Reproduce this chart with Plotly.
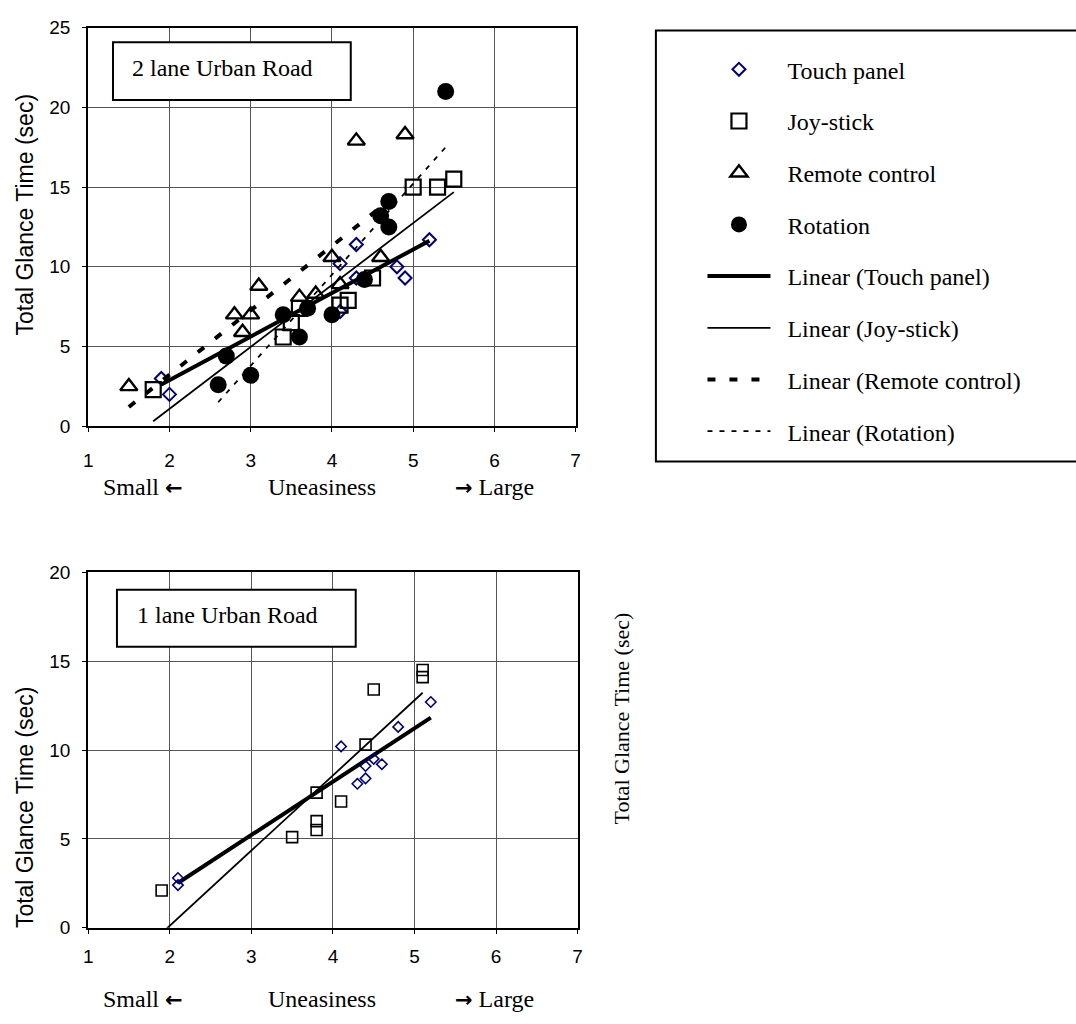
import numpy as np
import plotly.graph_objects as go

# ---------------- data: 2 lane urban road ----------------
tp2_x = [1.9, 2.0, 4.1, 4.1, 4.3, 4.3, 4.8, 4.9, 5.2]
tp2_y = [3.0, 2.0, 7.2, 10.2, 9.3, 11.4, 10.0, 9.3, 11.7]
js2_x = [1.8, 3.4, 3.5, 3.6, 4.1, 4.2, 4.5, 5.0, 5.3, 5.5]
js2_y = [2.3, 5.6, 6.5, 7.4, 7.6, 7.9, 9.3, 15.0, 15.0, 15.5]
rc2_x = [1.5, 2.8, 2.9, 3.0, 3.1, 3.6, 3.8, 4.0, 4.1, 4.3, 4.6, 4.9]
rc2_y = [2.5, 7.0, 5.9, 7.0, 8.8, 8.1, 8.3, 10.6, 8.9, 17.9, 10.6, 18.3]
ro2_x = [2.6, 2.7, 3.0, 3.4, 3.6, 3.7, 4.0, 4.4, 4.6, 4.7, 4.7, 5.4]
ro2_y = [2.6, 4.4, 3.2, 7.0, 5.6, 7.4, 7.0, 9.2, 13.2, 12.5, 14.1, 21.0]

# ---------------- data: 1 lane urban road ----------------
tp1_x = [2.1, 2.1, 4.1, 4.3, 4.4, 4.4, 4.5, 4.6, 4.8, 5.2]
tp1_y = [2.8, 2.4, 10.2, 8.1, 8.4, 9.1, 9.5, 9.2, 11.3, 12.7]
js1_x = [1.9, 3.5, 3.8, 3.8, 3.8, 4.1, 4.4, 4.5, 5.1, 5.1]
js1_y = [2.1, 5.1, 7.6, 6.0, 5.5, 7.1, 10.3, 13.4, 14.5, 14.1]

series_names = ["Touch panel", "Joy-stick", "Remote control", "Rotation"]
x_ticks = [1, 2, 3, 4, 5, 6, 7]
top_title = "2 lane Urban Road"
bottom_title = "1 lane Urban Road"
y_title = "Total Glance Time (sec)"
ARROW = "<b><span style=\"font-family:'DejaVu Sans';font-size:21px\">{}</span></b>"
x_title_parts = ["Small " + ARROW.format("\u2190"), "Uneasiness", ARROW.format("\u2192") + " Large"]

W, H = 1076, 1024
def px(x):
    return x / W
def py(y):
    return 1 - y / H

SERIF = "Liberation Serif, Times New Roman, serif"
SANS = "Liberation Sans, Arial, sans-serif"
NAVY = "#000080"


def trend(xs, ys):
    m, b = np.polyfit(xs, ys, 1)
    xe = np.array([min(xs), max(xs)])
    return xe, m * xe + b


fig = go.Figure()
pad = "\u00a0\u00a0"

marker_styles = [
    dict(symbol="diamond-open", color=NAVY, size=10, line=dict(width=2, color=NAVY)),
    dict(symbol="square-open", color="black", size=15, line=dict(width=2.2, color="black")),
    dict(symbol="triangle-up-open", color="black", size=15, line=dict(width=2.4, color="black")),
    dict(symbol="circle", color="black", size=17, line=dict(width=0)),
]
line_styles = [
    dict(color="black", width=4),
    dict(color="black", width=1.8),
    dict(color="black", width=4, dash="8px,14px"),
    dict(color="black", width=1.8, dash="5px,7px"),
]
top_sets = [(tp2_x, tp2_y), (js2_x, js2_y), (rc2_x, rc2_y), (ro2_x, ro2_y)]

for i, (xs, ys) in enumerate(top_sets):
    fig.add_trace(go.Scatter(x=xs, y=ys, mode="markers", name=pad + series_names[i],
                             marker=marker_styles[i], legendgroup=f"g{i}",
                             xaxis="x", yaxis="y"))
for i, (xs, ys) in enumerate(top_sets):
    tx, ty = trend(xs, ys)
    fig.add_trace(go.Scatter(x=tx, y=ty, mode="lines", name=pad + f"Linear ({series_names[i]})",
                             line=line_styles[i], legendgroup=f"l{i}",
                             xaxis="x", yaxis="y"))

# bottom chart
for i, (xs, ys) in enumerate([(tp1_x, tp1_y), (js1_x, js1_y)]):
    tx, ty = trend(xs, ys)
    fig.add_trace(go.Scatter(x=tx, y=ty, mode="lines", showlegend=False,
                             line=line_styles[i], xaxis="x2", yaxis="y2"))
fig.add_trace(go.Scatter(x=js1_x, y=js1_y, mode="markers", showlegend=False,
                         marker=dict(symbol="square-open", color="black", size=11,
                                     line=dict(width=1.6, color="black")),
                         xaxis="x2", yaxis="y2"))
fig.add_trace(go.Scatter(x=tp1_x, y=tp1_y, mode="markers", showlegend=False,
                         marker=dict(symbol="diamond-open", color=NAVY, size=8,
                                     line=dict(width=1.6, color=NAVY)),
                         xaxis="x2", yaxis="y2"))

axis_common = dict(showline=True, mirror=True, linewidth=2, linecolor="black",
                   showgrid=True, gridcolor="#555", gridwidth=1, zeroline=False,
                   ticks="outside", ticklen=4, tickcolor="black",
                   tickfont=dict(family=SANS, size=19, color="black"))

fig.update_layout(
    width=W, height=H, margin=dict(l=0, r=0, t=0, b=0),
    paper_bgcolor="white", plot_bgcolor="white",
    xaxis=dict(domain=[px(84), px(576)], range=[1, 7], tickvals=x_ticks,
               anchor="y", ticklabelstandoff=12, **axis_common),
    yaxis=dict(domain=[py(425), py(18)], range=[0, 25], dtick=5,
               anchor="x", ticklabelstandoff=8, **axis_common),
    xaxis2=dict(domain=[px(84), px(578)], range=[1, 7], tickvals=x_ticks,
                anchor="y2", ticklabelstandoff=6, **axis_common),
    yaxis2=dict(domain=[py(937), py(574)], range=[0, 20], dtick=5,
                anchor="x2", ticklabelstandoff=8, **axis_common),
    legend=dict(x=px(704), y=py(38), xanchor="left", yanchor="top",
                font=dict(family=SERIF, size=24, color="black"),
                bgcolor="rgba(0,0,0,0)", borderwidth=0,
                tracegroupgap=17.5, itemwidth=63, traceorder="grouped"),
    showlegend=True,
)

shapes = [
    dict(type="rect", xref="paper", yref="paper", x0=px(109), x1=px(349), y0=py(92), y1=py(33),
         line=dict(color="black", width=2), fillcolor="white", layer="above"),
    dict(type="rect", xref="paper", yref="paper", x0=px(113), x1=px(354), y0=py(650), y1=py(592),
         line=dict(color="black", width=2), fillcolor="white", layer="above"),
    dict(type="rect", xref="paper", yref="paper", x0=px(657), x1=px(1085), y0=py(461), y1=py(21),
         line=dict(color="black", width=2), fillcolor="rgba(0,0,0,0)", layer="above"),
]
fig.update_layout(shapes=shapes)

ann = []
ann.append(dict(text=top_title, x=px(126), y=py(59), xanchor="left", yanchor="middle"))
ann.append(dict(text=bottom_title, x=px(131), y=py(618), xanchor="left", yanchor="middle"))
for yc in (487, 1010):
    for txt, xc in zip(x_title_parts, (139, 320, 494)):
        ann.append(dict(text=txt, x=px(xc), y=py(yc), xanchor="center", yanchor="middle"))
for a in ann:
    a.update(xref="paper", yref="paper", showarrow=False,
             font=dict(family=SERIF, size=24, color="black"))
ann.append(dict(text=y_title, x=px(20), y=py(209), textangle=-90, xref="paper", yref="paper",
                showarrow=False, xanchor="center", yanchor="middle",
                font=dict(family=SANS, size=23, color="black")))
ann.append(dict(text=y_title, x=px(20), y=py(814), textangle=-90, xref="paper", yref="paper",
                showarrow=False, xanchor="center", yanchor="middle",
                font=dict(family=SANS, size=23, color="black")))
ann.append(dict(text=y_title, x=px(622), y=py(723), textangle=-90, xref="paper", yref="paper",
                showarrow=False, xanchor="center", yanchor="middle",
                font=dict(family=SERIF, size=22, color="black")))
fig.update_layout(annotations=ann)

fig.write_html("out.html")
